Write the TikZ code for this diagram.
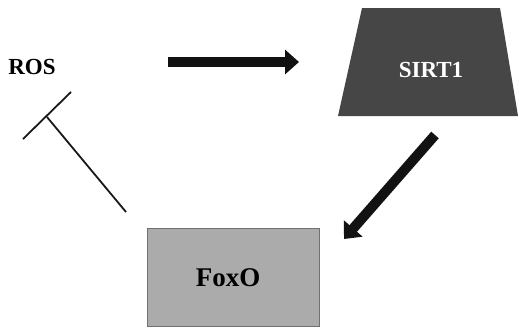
\documentclass[tikz,border=0pt]{standalone}
\usepackage{fontspec}
\setmainfont{Liberation Serif}
\usetikzlibrary{arrows.meta}
\definecolor{sirtgray}{HTML}{464646}
\definecolor{foxgray}{HTML}{ABABAB}
\definecolor{foxedge}{HTML}{707070}
\begin{document}
\begin{tikzpicture}[x=1pt,y=-1pt,
  lbl/.style={font=\bfseries\fontsize{23}{26}\selectfont, inner sep=0pt},
  bigarrow/.style={line width=10pt, color=black!93,
    -{Triangle[length=14pt,width=24pt]}},
  inhib/.style={line width=1.8pt, color=black!90}]
\useasboundingbox (0,0) rectangle (519,330);
% SIRT1 trapezium
\fill[sirtgray] (362,8) -- (500,8) -- (518,116) -- (338,116) -- cycle;
\node[lbl, text=white] (sirt) at (431,70) {SIRT1};
% FoxO box
\node[draw=foxedge, fill=foxgray, line width=1pt, minimum width=172pt,
      minimum height=98pt, inner sep=0pt] (foxbox) at (233,277) {};
\node[lbl, font=\bfseries\fontsize{27}{30}\selectfont] (foxo) at (228,278) {FoxO};
% ROS
\node[lbl] (ros) at (32,67) {ROS};
% arrows
\coordinate (a1s) at (168,62);
\coordinate (a1e) at (299,62);
\draw[bigarrow] (a1s) -- (a1e);
\coordinate (a2s) at (435,135);
\coordinate (a2e) at (344,239);
\draw[bigarrow] (a2s) -- (a2e);
% inhibition
\coordinate (i1) at (126,212);
\coordinate (i2) at (47,117);
\coordinate (t1) at (23,139);
\coordinate (t2) at (71,92);
\draw[inhib] (i1) -- (i2);
\draw[inhib] (t1) -- (t2);
\end{tikzpicture}
\end{document}
